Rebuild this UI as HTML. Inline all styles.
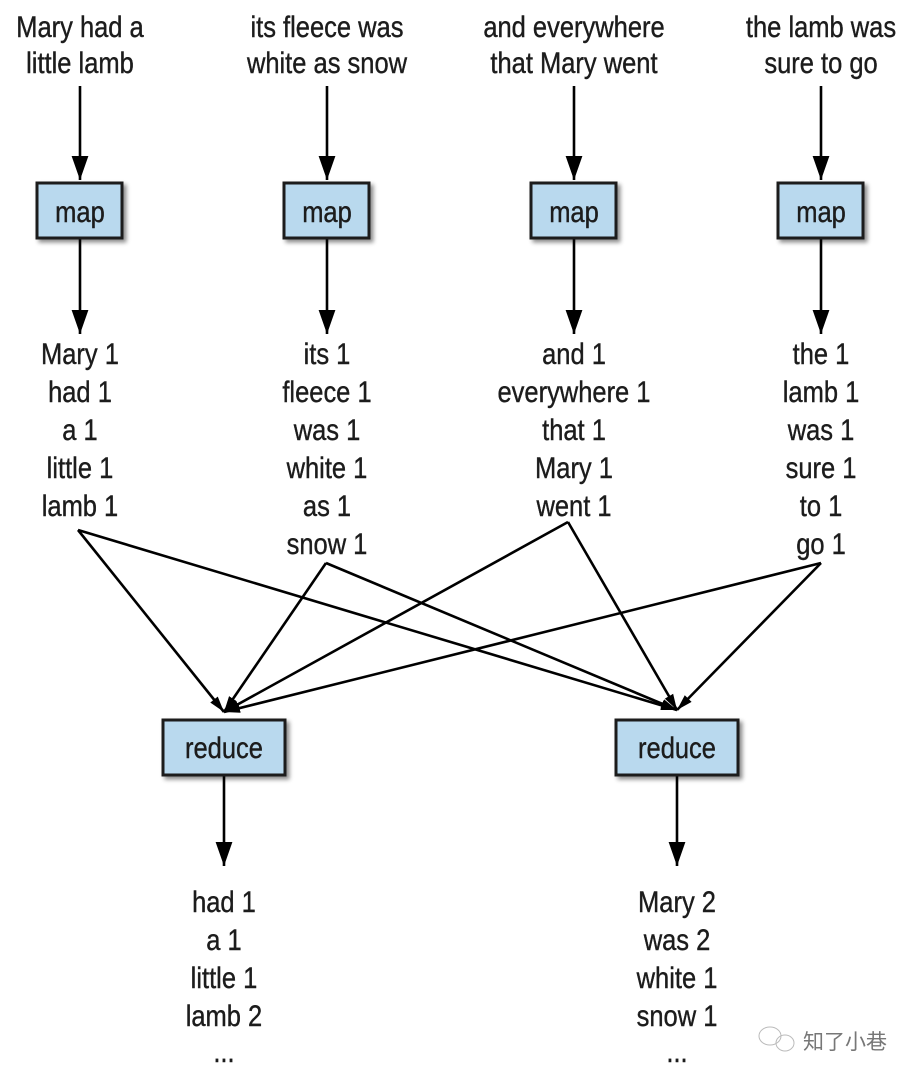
<!DOCTYPE html>
<html><head><meta charset="utf-8"><style>
html,body{margin:0;padding:0;background:#fff;}
svg{display:block;}
text{font-family:"Liberation Sans",sans-serif;font-size:30px;fill:#1c1c1c;text-anchor:middle;stroke:#1c1c1c;stroke-width:0.4;}
.b{fill:#b9d9ee;stroke:#1a1a1a;stroke-width:3;}
.l{stroke:#000;stroke-width:2.6;fill:none;}
</style></head><body>
<svg width="918" height="1078" viewBox="0 0 918 1078">
<defs>
<marker id="A" viewBox="0 0 10 10" refX="10" refY="5" markerWidth="24" markerHeight="24" markerUnits="userSpaceOnUse" orient="auto"><path d="M0,1.5L10,5L0,8.5z" fill="#000"/></marker>
<marker id="S" viewBox="0 0 10 10" refX="10" refY="5" markerWidth="16" markerHeight="16" markerUnits="userSpaceOnUse" orient="auto"><path d="M0,2L10,5L0,8z" fill="#000"/></marker>
<filter id="s"><feDropShadow dx="3" dy="3" stdDeviation="2" flood-opacity="0.45"/></filter>
</defs>
<g class="l">
<line x1="80" y1="86" x2="80" y2="180" marker-end="url(#A)"/>
<line x1="327" y1="86" x2="327" y2="180" marker-end="url(#A)"/>
<line x1="574" y1="86" x2="574" y2="180" marker-end="url(#A)"/>
<line x1="821" y1="86" x2="821" y2="180" marker-end="url(#A)"/>
<line x1="80" y1="238" x2="80" y2="334" marker-end="url(#A)"/>
<line x1="327" y1="238" x2="327" y2="334" marker-end="url(#A)"/>
<line x1="574" y1="238" x2="574" y2="334" marker-end="url(#A)"/>
<line x1="821" y1="238" x2="821" y2="334" marker-end="url(#A)"/>
<line x1="78" y1="530" x2="224" y2="712" marker-end="url(#S)"/>
<line x1="78" y1="530" x2="677" y2="710" marker-end="url(#S)"/>
<line x1="326" y1="563" x2="224" y2="712" marker-end="url(#S)"/>
<line x1="326" y1="563" x2="677" y2="710" marker-end="url(#S)"/>
<line x1="568" y1="522" x2="224" y2="712" marker-end="url(#S)"/>
<line x1="568" y1="522" x2="677" y2="710" marker-end="url(#S)"/>
<line x1="821" y1="563" x2="224" y2="712" marker-end="url(#S)"/>
<line x1="821" y1="563" x2="677" y2="710" marker-end="url(#S)"/>
<line x1="224" y1="775" x2="224" y2="866" marker-end="url(#A)"/>
<line x1="677" y1="775" x2="677" y2="866" marker-end="url(#A)"/>
</g>
<g filter="url(#s)">
<rect class="b" x="37" y="183" width="85" height="55"/>
<rect class="b" x="284" y="183" width="85" height="55"/>
<rect class="b" x="531" y="183" width="85" height="55"/>
<rect class="b" x="778" y="183" width="85" height="55"/>
<rect class="b" x="163" y="720" width="122" height="55"/>
<rect class="b" x="616" y="720" width="122" height="55"/>
</g>
<g transform="scale(0.85,1)">
<text x="94.1" y="37">Mary had a</text><text x="94.1" y="73">little lamb</text>
<text x="384.7" y="37">its fleece was</text><text x="384.7" y="73">white as snow</text>
<text x="675.3" y="37">and everywhere</text><text x="675.3" y="73">that Mary went</text>
<text x="965.9" y="37">the lamb was</text><text x="965.9" y="73">sure to go</text>
<text x="94.1" y="222">map</text><text x="384.7" y="222">map</text><text x="675.3" y="222">map</text><text x="965.9" y="222">map</text>
<text x="263.5" y="758">reduce</text><text x="796.5" y="758">reduce</text>
<text x="94.1" y="364">Mary 1</text><text x="94.1" y="402">had 1</text><text x="94.1" y="440">a 1</text><text x="94.1" y="478">little 1</text><text x="94.1" y="516">lamb 1</text>
<text x="384.7" y="364">its 1</text><text x="384.7" y="402">fleece 1</text><text x="384.7" y="440">was 1</text><text x="384.7" y="478">white 1</text><text x="384.7" y="516">as 1</text><text x="384.7" y="554">snow 1</text>
<text x="675.3" y="364">and 1</text><text x="675.3" y="402">everywhere 1</text><text x="675.3" y="440">that 1</text><text x="675.3" y="478">Mary 1</text><text x="675.3" y="516">went 1</text>
<text x="965.9" y="364">the 1</text><text x="965.9" y="402">lamb 1</text><text x="965.9" y="440">was 1</text><text x="965.9" y="478">sure 1</text><text x="965.9" y="516">to 1</text><text x="965.9" y="554">go 1</text>
<text x="263.5" y="912">had 1</text><text x="263.5" y="950">a 1</text><text x="263.5" y="988">little 1</text><text x="263.5" y="1026">lamb 2</text><text x="263.5" y="1062">...</text>
<text x="796.5" y="912">Mary 2</text><text x="796.5" y="950">was 2</text><text x="796.5" y="988">white 1</text><text x="796.5" y="1026">snow 1</text><text x="796.5" y="1062">...</text>
</g>
<g stroke="#bbb" fill="none" stroke-width="1">
<ellipse cx="770" cy="1036" rx="11" ry="9"/><ellipse cx="785" cy="1043" rx="9" ry="8"/>
</g>
<text x="845" y="1049" style="font-family:'Noto Sans CJK SC',sans-serif;font-size:21px;fill:#777;stroke:none;">知了小巷</text>
</svg>
</body></html>
